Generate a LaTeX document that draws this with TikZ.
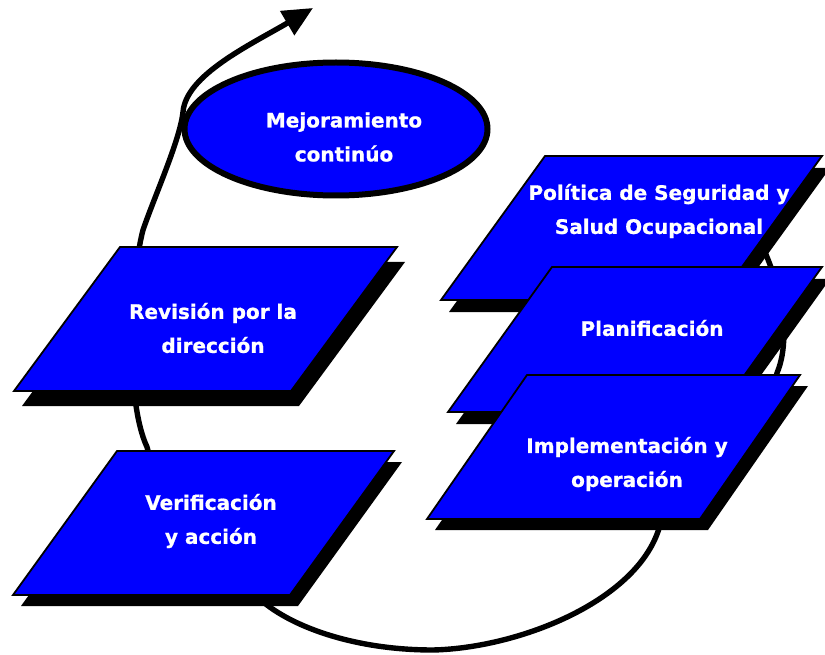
\documentclass[tikz,border=0pt]{standalone}
\usepackage{fontspec}
\setmainfont{DejaVu Sans}
\newfontfamily\lblfont[FakeBold=0.8]{DejaVu Sans Bold}
\usetikzlibrary{shapes.geometric,arrows.meta}
\definecolor{boxblue}{RGB}{0,0,255}
\begin{document}
\begin{tikzpicture}[x=1pt,y=-1pt,
  shadowfill/.style={fill=black},
  boxfill/.style={fill=boxblue,draw=black,line width=1.8pt,line join=miter},
  lbl/.style={text=white,font=\lblfont\fontsize{20}{34}\selectfont,align=center,inner sep=0pt},
  spiral/.style={line width=5.4pt,-{Triangle[length=30pt,width=27pt]}},
  ovalbox/.style={ellipse,fill=boxblue,draw=black,line width=6pt,minimum width=303pt,minimum height=133pt,inner sep=0pt}]
\useasboundingbox (0,0) rectangle (825,655);
\fill[white] (0,0) rectangle (825,655);

% ellipse
\node[ovalbox] (mej) at (336,129) {};
\node[lbl] (mejt) at (344,137) {Mejoramiento\\continúo};

% spiral
\coordinate (s0) at (745,215);
\coordinate (s1) at (777,373);
\coordinate (s2) at (660,525);
\coordinate (s3) at (433,650);
\coordinate (s4) at (267,605);
\coordinate (s5) at (147,447);
\coordinate (s6) at (143,230);
\coordinate (s7) at (183,112);
\coordinate (tip) at (313,8);
\draw[spiral] (s0) .. controls (775,260) and (795,330) .. (s1)
  .. controls (765,430) and (690,470) .. (s2)
  .. controls (640,600) and (520,648) .. (s3)
  .. controls (360,650) and (300,630) .. (s4)
  .. controls (220,570) and (160,500) .. (s5)
  .. controls (125,400) and (130,280) .. (s6)
  .. controls (155,195) and (180,140) .. (s7)
  .. controls (186,75) and (250,45) .. (tip);

% Politica
\fill[shadowfill] (553,168) -- (830,168) -- (726,312) -- (449,312) -- cycle;
\draw[boxfill] (545,156) -- (822,156) -- (718,300) -- (441,300) -- cycle;
\node[lbl] (pol) at (659,211) {Política de Seguridad y\\Salud Ocupacional};

% Planificacion
\fill[shadowfill] (560,279) -- (830,279) -- (726,424) -- (456,424) -- cycle;
\draw[boxfill] (552,267) -- (822,267) -- (718,412) -- (448,412) -- cycle;
\node[lbl] (plan) at (652,328) {Planificación};

% Implementacion
\fill[shadowfill] (535,386) -- (808,386) -- (708,530) -- (435,530) -- cycle;
\draw[boxfill] (527,375) -- (800,375) -- (700,519) -- (427,519) -- cycle;
\node[lbl] (impl) at (627,464) {Implementación y\\operación};

% Revision
\fill[shadowfill] (128,262) -- (405,262) -- (299,406) -- (22,406) -- cycle;
\draw[boxfill] (120,247) -- (397,247) -- (291,391) -- (14,391) -- cycle;
\node[lbl] (rev) at (213,328) {Revisión por la\\dirección};

% Verificacion
\fill[shadowfill] (125,462) -- (402,462) -- (298,606) -- (21,606) -- cycle;
\draw[boxfill] (117,451) -- (394,451) -- (290,595) -- (13,595) -- cycle;
\node[lbl] (ver) at (211,521) {Verificación\\y acción};
\end{tikzpicture}
\end{document}
